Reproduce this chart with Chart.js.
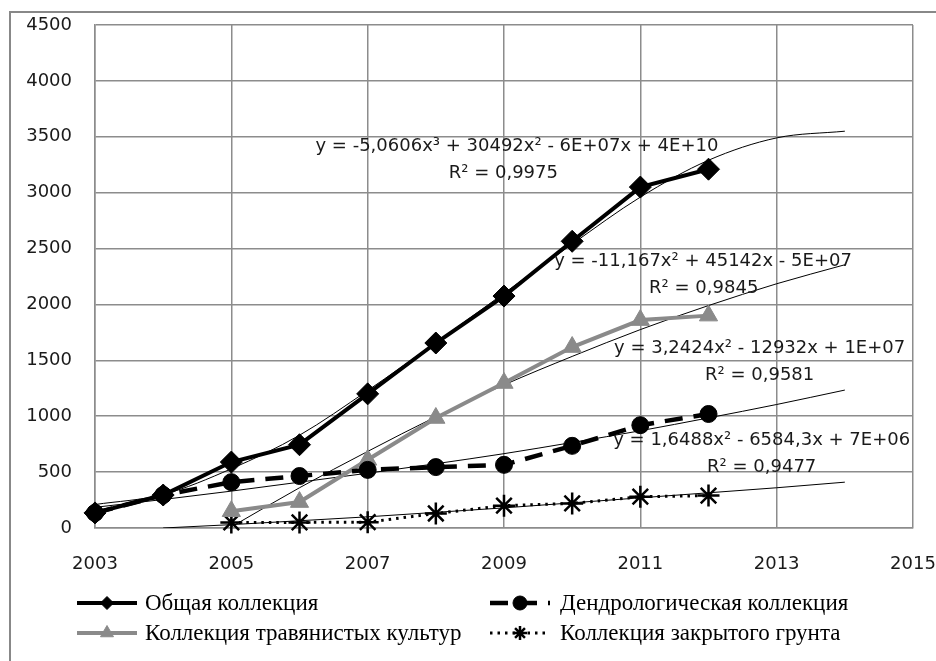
<!DOCTYPE html>
<html>
<head>
<meta charset="utf-8">
<script src="https://cdn.jsdelivr.net/npm/chart.js@4.4.1/dist/chart.umd.min.js"></script>
<style>
  html, body { margin: 0; padding: 0; background: #fff; }
</style>
</head>
<body>
<canvas id="chart" width="936" height="661"></canvas>
<script>
// observed values, 2003-2012
const years = [2003, 2004, 2005, 2006, 2007, 2008, 2009, 2010, 2011, 2012]
const obshaya = [135, 295, 590, 745, 1200, 1655, 2075, 2565, 3050, 3210]
const dendro = [135, 295, 410, 465, 520, 545, 565, 735, 920, 1020]
const travyan = [null, null, 150, 232, 610, 984, 1297, 1619, 1860, 1900]
const zakryt = [null, null, 50, 50, 52, 130, 200, 220, 280, 290]

// trendlines
const trendYears = [2003, 2004, 2005, 2006, 2007, 2008, 2009, 2010, 2011, 2012, 2013, 2014]
const trendObshaya = [210, 300, 530, 830, 1230, 1660, 2100, 2540, 2960, 3290, 3490, 3550]
const trendDendro = [185, 255, 330, 410, 490, 575, 665, 765, 870, 985, 1105, 1234]
const trendTravyan = [null, null, 10, 360, 685, 995, 1280, 1535, 1775, 1990, 2185, 2355]
const trendZakryt = [null, 0, 30, 65, 100, 140, 180, 225, 270, 315, 360, 410]

const seriesNames = [
  'Общая коллекция',
  'Дендрологическая коллекция',
  'Коллекция травянистых культур',
  'Коллекция закрытого грунта'
]
const equations = [
  ['y = -5,0606x³ + 30492x² - 6E+07x + 4E+10', 'R² = 0,9975'],
  ['y = -11,167x² + 45142x - 5E+07', 'R² = 0,9845'],
  ['y = 3,2424x² - 12932x + 1E+07', 'R² = 0,9581'],
  ['y = 1,6488x² - 6584,3x + 7E+06', 'R² = 0,9477']
]

const toPoints = (xs, ys) => xs.map((x, i) => ({ x: x, y: ys[i] })).filter(p => p.y !== null)

const GRID = '#8c8c8c'
const GRAY = '#8a8a8a'

const trend = (vals) => ({
  data: toPoints(trendYears, vals),
  borderColor: '#000',
  borderWidth: 1,
  pointRadius: 0,
  tension: 0.4,
  cubicInterpolationMode: 'monotone',
  fill: false
})

// frame round the whole picture
const framePlugin = {
  id: 'frame',
  beforeDraw(chart) {
    const ctx = chart.ctx
    ctx.save()
    ctx.fillStyle = '#fff'
    ctx.fillRect(0, 0, chart.width, chart.height)
    ctx.strokeStyle = '#888'
    ctx.lineWidth = 2
    ctx.beginPath()
    ctx.moveTo(10, chart.height + 2)
    ctx.lineTo(10, 12)
    ctx.lineTo(chart.width + 2, 12)
    ctx.stroke()
    ctx.restore()
  }
}

// trendline equations, anchored in data units
const eqPlugin = {
  id: 'equations',
  afterDatasetsDraw(chart, args, opts) {
    const ctx = chart.ctx
    const xs = chart.scales.x, ys = chart.scales.y
    ctx.save()
    ctx.font = opts.font
    ctx.fillStyle = opts.color
    ctx.textAlign = 'center'
    ctx.textBaseline = 'middle'
    opts.anchors.forEach((a, i) => {
      ctx.fillText(equations[i][0], xs.getPixelForValue(a[0]), ys.getPixelForValue(a[1]))
      ctx.fillText(equations[i][1], xs.getPixelForValue(a[2]), ys.getPixelForValue(a[3]))
    })
    ctx.restore()
  }
}

// legend in two columns, line + marker like the source
const legendPlugin = {
  id: 'colLegend',
  afterDraw(chart, args, opts) {
    const ctx = chart.ctx
    opts.items.forEach((it, i) => {
      const ds = chart.data.datasets[i]
      ctx.save()
      ctx.strokeStyle = ds.borderColor
      ctx.lineWidth = ds.borderWidth
      ctx.setLineDash(ds.borderDash || [])
      ctx.beginPath()
      ctx.moveTo(it.x0, it.y)
      ctx.lineTo(it.x1, it.y)
      ctx.stroke()
      ctx.setLineDash([])
      ctx.fillStyle = ds.pointBackgroundColor
      ctx.strokeStyle = ds.pointBorderColor
      ctx.lineWidth = ds.pointBorderWidth
      Chart.helpers.drawPoint(ctx, {
        pointStyle: ds.pointStyle,
        radius: opts.markerRadius[i],
        rotation: 0,
        borderWidth: ds.pointBorderWidth
      }, (it.x0 + it.x1) / 2, it.y)
      ctx.fillStyle = '#000'
      ctx.font = opts.font
      ctx.textAlign = 'left'
      ctx.textBaseline = 'middle'
      ctx.fillText(seriesNames[i], it.tx, it.y + 1)
      ctx.restore()
    })
  }
}

new Chart(document.getElementById('chart'), {
  type: 'line',
  data: {
    datasets: [
      {
        label: seriesNames[0],
        data: toPoints(years, obshaya),
        borderColor: '#000',
        borderWidth: 4,
        pointStyle: 'rectRot',
        pointRadius: 11,
        pointBackgroundColor: '#000',
        pointBorderColor: '#000',
        pointBorderWidth: 1,
        clip: false
      },
      {
        label: seriesNames[1],
        data: toPoints(years, dendro),
        borderColor: '#000',
        borderWidth: 4.5,
        borderDash: [18, 11],
        pointStyle: 'circle',
        pointRadius: 8.5,
        pointBackgroundColor: '#000',
        pointBorderColor: '#000',
        pointBorderWidth: 1,
        clip: false
      },
      {
        label: seriesNames[2],
        data: toPoints(years, travyan),
        borderColor: GRAY,
        borderWidth: 4,
        pointStyle: 'triangle',
        pointRadius: 10.5,
        pointBackgroundColor: GRAY,
        pointBorderColor: GRAY,
        pointBorderWidth: 1,
        clip: false
      },
      {
        label: seriesNames[3],
        data: toPoints(years, zakryt),
        borderColor: '#000',
        borderWidth: 3,
        borderDash: [2.5, 5],
        pointStyle: 'star',
        pointRadius: 11,
        pointBackgroundColor: '#000',
        pointBorderColor: '#000',
        pointBorderWidth: 2.5,
        clip: false
      },
      trend(trendObshaya),
      trend(trendDendro),
      trend(trendTravyan),
      trend(trendZakryt)
    ]
  },
  options: {
    responsive: false,
    animation: false,
    devicePixelRatio: 1,
    layout: { padding: { left: 0, top: 25, right: 23, bottom: 0 } },
    plugins: {
      legend: { display: false },
      tooltip: { enabled: false },
      equations: {
        font: '18px "DejaVu Sans"',
        color: '#1a1a1a',
        anchors: [
          [2009.19, 3417, 2008.99, 3176],
          [2011.92, 2389, 2011.93, 2147],
          [2012.75, 1610, 2012.75, 1369],
          [2012.78, 787, 2012.78, 546]
        ]
      },
      colLegend: {
        font: '23px "Liberation Serif"',
        markerRadius: [6.5, 7, 7.5, 7],
        items: [
          { x0: 77, x1: 137, tx: 145, y: 603 },
          { x0: 490, x1: 550, tx: 560, y: 603 },
          { x0: 77, x1: 137, tx: 145, y: 633 },
          { x0: 490, x1: 550, tx: 560, y: 633 }
        ]
      }
    },
    scales: {
      x: {
        type: 'linear',
        min: 2003,
        max: 2015,
        afterFit: (s) => { s.height = 133; s.paddingLeft = 0; s.paddingRight = 0 },
        border: { display: true, color: GRID, width: 1.5 },
        grid: { color: GRID, lineWidth: 1.5, drawTicks: false },
        ticks: {
          stepSize: 2,
          padding: 26,
          color: '#1a1a1a',
          font: { family: 'DejaVu Sans', size: 18 },
          maxRotation: 0,
          callback: (v) => String(v)
        }
      },
      y: {
        min: 0,
        max: 4500,
        afterFit: (s) => { s.width = 95; s.paddingTop = 0; s.paddingBottom = 0 },
        border: { display: true, color: GRID, width: 1.5 },
        grid: { color: GRID, lineWidth: 1.5, drawTicks: false },
        ticks: {
          stepSize: 500,
          padding: 23,
          color: '#1a1a1a',
          font: { family: 'DejaVu Sans', size: 18 },
          callback: (v) => String(v)
        }
      }
    }
  },
  plugins: [framePlugin, eqPlugin, legendPlugin]
})
</script>
</body>
</html>
